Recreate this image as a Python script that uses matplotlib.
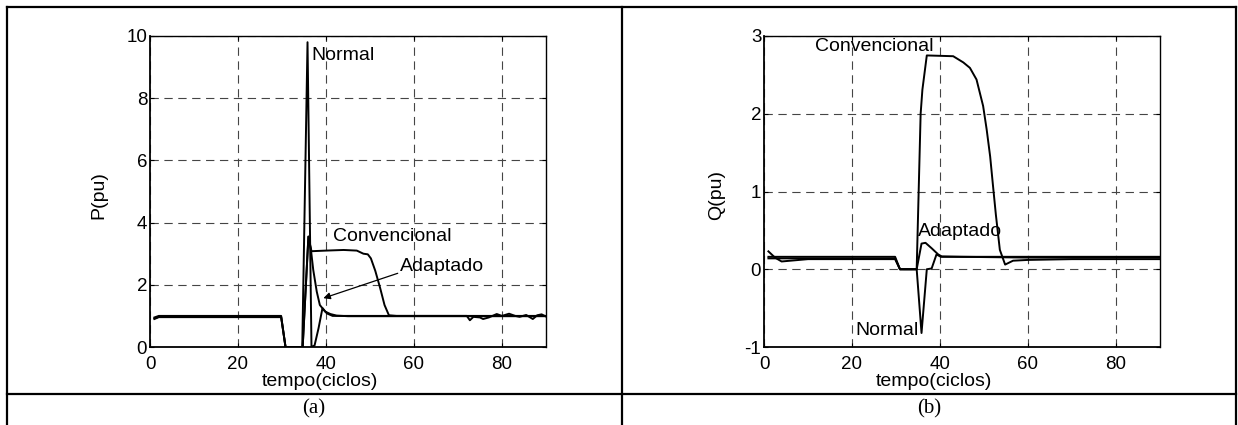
import matplotlib
matplotlib.use("Agg")
import matplotlib.pyplot as plt
from matplotlib.lines import Line2D

plt.rcParams["font.family"] = ["Liberation Sans", "DejaVu Sans"]
plt.rcParams["lines.scale_dashes"] = False
plt.rcParams["axes.unicode_minus"] = False

# (a) potencia ativa P(pu)
t_p_normal = [1, 2, 4, 10, 20, 29.8, 30.8, 34.6, 35.8, 36.7, 37.4, 38.3, 39.2, 40.2, 41.5, 45, 50, 55, 60, 65, 70,
              72, 72.7, 73.5, 75, 75.7, 77, 78.8, 80, 81.6, 83, 84, 85.5, 87, 88, 89, 90]
p_normal = [0.92, 0.97, 0.98, 0.98, 0.98, 0.98, 0.0, 0.0, 9.8, 0.0, 0.05, 0.6, 1.25, 1.08, 1.0, 1.0, 1.0, 1.0, 1.0, 1.0, 1.0,
            1.0, 0.86, 0.97, 0.95, 0.9, 0.95, 1.06, 1.0, 1.07, 1.0, 0.97, 1.03, 0.9, 1.02, 1.05, 0.98]

t_p_conv = [1, 2, 10, 20, 29.8, 30.8, 34.7, 36.0, 36.7, 40, 44, 47, 48.5, 49.5, 50.2, 51.2, 52.3, 53.3, 54.3, 56,
            60, 70, 80, 90]
p_conv = [0.95, 1.0, 1.0, 1.0, 1.0, 0.0, 0.0, 3.55, 3.08, 3.1, 3.12, 3.1, 3.0, 2.98, 2.85, 2.45, 1.9, 1.35, 1.02, 1.0,
          1.0, 1.0, 1.0, 1.0]

t_p_adapt = [1, 2, 10, 20, 29.8, 30.8, 34.7, 36.0, 36.6, 37.1, 37.9, 38.6, 39.8, 41, 42.4, 45, 50, 60, 70, 80, 90]
p_adapt = [0.9, 0.96, 0.96, 0.96, 0.96, 0.0, 0.0, 3.55, 3.1, 2.48, 1.78, 1.35, 1.14, 1.06, 1.01, 0.99, 0.99, 0.99,
           0.99, 0.99, 0.99]

# (b) potencia reativa Q(pu)
t_q_normal = [1, 3, 10, 20, 29.8, 30.9, 34.7, 35.8, 37.0, 38.1, 39.2, 40.2, 45, 60, 70, 80, 90]
q_normal = [0.14, 0.14, 0.14, 0.14, 0.14, 0.0, 0.0, -0.82, 0.0, 0.01, 0.19, 0.16, 0.16, 0.15, 0.15, 0.15, 0.15]

t_q_conv = [1, 2.5, 4, 10, 20, 29.8, 30.9, 34.7, 35.6, 36.0, 37.0, 43.0, 45.3, 46.8, 48.3, 49.8, 50.6, 51.4, 52.0,
            52.7, 53.6, 54.8, 56.6, 60, 70, 80, 90]
q_conv = [0.23, 0.15, 0.10, 0.13, 0.13, 0.13, 0.0, 0.0, 2.0, 2.31, 2.75, 2.74, 2.66, 2.59, 2.44, 2.10, 1.8, 1.45, 1.1,
          0.7, 0.25, 0.06, 0.11, 0.12, 0.13, 0.13, 0.13]

t_q_adapt = [1, 3, 10, 20, 29.8, 30.9, 34.7, 35.8, 36.7, 38.1, 39.6, 40.4, 45, 60, 70, 80, 90]
q_adapt = [0.16, 0.16, 0.16, 0.16, 0.16, 0.0, 0.0, 0.33, 0.34, 0.27, 0.19, 0.165, 0.16, 0.16, 0.16, 0.16, 0.16]

W, H = 1238, 425
fig = plt.figure(figsize=(W / 100, H / 100), dpi=100)

# moldura da tabela
frame = dict(color="black", lw=1.6, transform=fig.transFigure)
fx = lambda px: px / W
fy = lambda py: 1 - py / H
fig.add_artist(Line2D([fx(7), fx(1236)], [fy(7), fy(7)], **frame))
fig.add_artist(Line2D([fx(7), fx(7)], [fy(7), 0], **frame))
fig.add_artist(Line2D([fx(1236), fx(1236)], [fy(7), 0], **frame))
fig.add_artist(Line2D([fx(622), fx(622)], [fy(7), 0], **frame))
fig.add_artist(Line2D([fx(7), fx(1236)], [fy(394), fy(394)], **frame))
fig.text(fx(314), fy(409), "(a)", ha="center", va="center", fontsize=15, family="Liberation Serif")
fig.text(fx(929), fy(409), "(b)", ha="center", va="center", fontsize=15, family="Liberation Serif")

ax1 = fig.add_axes([150 / W, 78 / H, 396 / W, 311 / H])
ax2 = fig.add_axes([764 / W, 78 / H, 396 / W, 311 / H])

ax1.plot(t_p_conv, p_conv, color="black", lw=1.4)
ax1.plot(t_p_adapt, p_adapt, color="black", lw=1.4)
ax1.plot(t_p_normal, p_normal, color="black", lw=1.4)
ax1.set_ylim(0, 10)
ax1.set_yticks([0, 2, 4, 6, 8, 10])
ax1.set_ylabel("P(pu)", fontsize=14)
ax1.yaxis.set_label_coords(-0.1086, 0.49)
ax1.text(36.75, 9.36, "Normal", fontsize=14, va="center")
ax1.text(41.7, 3.54, "Convencional", fontsize=14, va="center")
ax1.text(56.8, 2.59, "Adaptado", fontsize=14, va="center")
ax1.annotate("", xy=(39.4, 1.57), xytext=(56.3, 2.37),
             arrowprops=dict(arrowstyle="-|>", color="black", lw=0.9, mutation_scale=10,
                             shrinkA=0, shrinkB=0))

ax2.plot(t_q_conv, q_conv, color="black", lw=1.4)
ax2.plot(t_q_adapt, q_adapt, color="black", lw=1.4)
ax2.plot(t_q_normal, q_normal, color="black", lw=1.4)
ax2.set_ylim(-1, 3)
ax2.set_yticks([-1, 0, 1, 2, 3])
ax2.set_ylabel("Q(pu)", fontsize=14)
ax2.yaxis.set_label_coords(-0.0985, 0.49)
ax2.text(11.6, 2.87, "Convencional", fontsize=14, va="center")
ax2.text(34.9, 0.49, "Adaptado", fontsize=14, va="center")
ax2.text(20.7, -0.785, "Normal", fontsize=14, va="center")

for ax in (ax1, ax2):
    ax.set_xlim(0, 90)
    ax.set_xticks([0, 20, 40, 60, 80])
    ax.set_xlabel("tempo(ciclos)", fontsize=14)
    ax.xaxis.set_label_coords(0.429, -0.084)
    ax.grid(True, color="#454545", lw=0.8, dashes=(6, 4))
    ax.tick_params(direction="in", length=3, width=0.8, labelsize=13.5,
                   top=True, right=True)
    ax.tick_params(axis="x", pad=6.5)
    ax.tick_params(axis="y", pad=2)
    for s in ax.spines.values():
        s.set_linewidth(1.0)
    ax.spines["left"].set_linewidth(1.3)
    ax.spines["bottom"].set_linewidth(1.3)

fig.savefig("out.png", dpi=100)
